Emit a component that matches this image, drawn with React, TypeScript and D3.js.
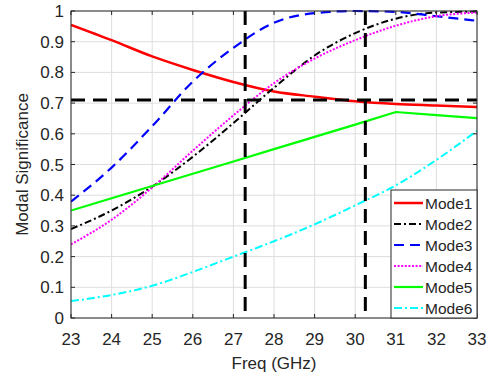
import React, { useEffect, useRef } from 'react'
import * as d3 from 'd3'

// Frequency grid (GHz)
const freq = [23, 24, 25, 26, 27, 28, 29, 30, 31, 32, 33]

const mode1 = [0.955, 0.905, 0.852, 0.808, 0.769, 0.738, 0.721, 0.706, 0.697, 0.692, 0.687]
const mode2 = [0.29, 0.35, 0.428, 0.525, 0.635, 0.75, 0.855, 0.928, 0.975, 0.995, 0.998]
const mode3 = [0.379, 0.49, 0.625, 0.77, 0.88, 0.962, 0.993, 1.0, 0.997, 0.983, 0.968]
const mode4 = [0.24, 0.32, 0.425, 0.545, 0.66, 0.765, 0.845, 0.905, 0.952, 0.983, 0.995]
const mode5 = [0.35, 0.39, 0.43, 0.47, 0.51, 0.55, 0.59, 0.63, 0.671, 0.661, 0.651]
const mode6 = [0.055, 0.075, 0.105, 0.15, 0.2, 0.25, 0.305, 0.367, 0.432, 0.515, 0.61]

const seriesNames = ['Mode1', 'Mode2', 'Mode3', 'Mode4', 'Mode5', 'Mode6']
const seriesValues = [mode1, mode2, mode3, mode4, mode5, mode6]

const xTicks = [23, 24, 25, 26, 27, 28, 29, 30, 31, 32, 33]
const yTicks = [0, 0.1, 0.2, 0.3, 0.4, 0.5, 0.6, 0.7, 0.8, 0.9, 1]

// reference markers
const refFreqs = [27.29, 30.25]
const refLevel = 0.71

const styles = [
    { color: '#ff0000', dash: null, width: 2.5, curve: d3.curveMonotoneX },
    { color: '#000000', dash: '7,3,2,3', width: 2, curve: d3.curveMonotoneX },
    { color: '#0000ff', dash: '10,6', width: 2.2, curve: d3.curveMonotoneX },
    { color: '#ff00ff', dash: '2,1.6', width: 2, curve: d3.curveMonotoneX },
    { color: '#00ff00', dash: null, width: 2.2, curve: d3.curveLinear },
    { color: '#00ffff', dash: '8,3,2,3', width: 2, curve: d3.curveMonotoneX },
]

export default function App() {
    const svgRef = useRef<SVGSVGElement>(null)
    const width = 493
    const height = 381

    useEffect(() => {
        if (!svgRef.current) return
        const svg = d3.select(svgRef.current)
        svg.selectAll('*').remove()

        const margin = { top: 11, right: 16, bottom: 63, left: 71 }
        const innerWidth = width - margin.left - margin.right
        const innerHeight = height - margin.top - margin.bottom
        const font = 'Liberation Sans, Arial, sans-serif'
        const axisColor = '#262626'

        svg.append('rect').attr('width', width).attr('height', height).attr('fill', '#ffffff')

        const x = d3.scaleLinear().domain([23, 33]).range([0, innerWidth])
        const y = d3.scaleLinear().domain([0, 1]).range([innerHeight, 0])

        const g = svg.append('g').attr('transform', `translate(${margin.left},${margin.top})`)

        // Grid
        g.append('g').selectAll('line').data(xTicks).enter().append('line')
            .attr('x1', d => x(d)).attr('x2', d => x(d))
            .attr('y1', 0).attr('y2', innerHeight)
            .attr('stroke', '#dedede').attr('stroke-width', 1)
        g.append('g').selectAll('line').data(yTicks).enter().append('line')
            .attr('x1', 0).attr('x2', innerWidth)
            .attr('y1', d => y(d)).attr('y2', d => y(d))
            .attr('stroke', '#dedede').attr('stroke-width', 1)

        // Series lines
        const clip = svg.append('defs').append('clipPath').attr('id', 'plot-clip')
        clip.append('rect').attr('x', 0).attr('y', -2).attr('width', innerWidth).attr('height', innerHeight + 2)
        const lines = g.append('g').attr('clip-path', 'url(#plot-clip)')

        seriesValues.forEach((vals, i) => {
            const st = styles[i]
            const line = d3.line<number>()
                .x((_, j) => x(freq[j]))
                .y(d => y(d))
                .curve(st.curve)
            const path = lines.append('path')
                .datum(vals)
                .attr('fill', 'none')
                .attr('stroke', st.color)
                .attr('stroke-width', st.width)
                .attr('d', line)
            if (st.dash) path.attr('stroke-dasharray', st.dash)
        })

        // Reference dashed lines
        refFreqs.forEach(f => {
            g.append('line')
                .attr('x1', x(f)).attr('x2', x(f))
                .attr('y1', 0).attr('y2', innerHeight)
                .attr('stroke', '#000').attr('stroke-width', 3)
                .attr('stroke-dasharray', '14,8')
        })
        g.append('line')
            .attr('x1', 0).attr('x2', innerWidth)
            .attr('y1', y(refLevel)).attr('y2', y(refLevel))
            .attr('stroke', '#000').attr('stroke-width', 3)
            .attr('stroke-dasharray', '14,8')

        // Box + inward ticks
        g.append('rect')
            .attr('x', 0).attr('y', 0).attr('width', innerWidth).attr('height', innerHeight)
            .attr('fill', 'none').attr('stroke', axisColor).attr('stroke-width', 1)
        const tickLen = 4
        xTicks.forEach(t => {
            g.append('line').attr('x1', x(t)).attr('x2', x(t)).attr('y1', innerHeight).attr('y2', innerHeight - tickLen).attr('stroke', axisColor)
            g.append('line').attr('x1', x(t)).attr('x2', x(t)).attr('y1', 0).attr('y2', tickLen).attr('stroke', axisColor)
        })
        yTicks.forEach(t => {
            g.append('line').attr('x1', 0).attr('x2', tickLen).attr('y1', y(t)).attr('y2', y(t)).attr('stroke', axisColor)
            g.append('line').attr('x1', innerWidth).attr('x2', innerWidth - tickLen).attr('y1', y(t)).attr('y2', y(t)).attr('stroke', axisColor)
        })

        // Tick labels
        g.append('g').selectAll('text').data(xTicks).enter().append('text')
            .attr('x', d => x(d)).attr('y', innerHeight + 27)
            .attr('text-anchor', 'middle')
            .attr('font-family', font).attr('font-size', 17).attr('fill', axisColor)
            .text(d => String(d))
        g.append('g').selectAll('text').data(yTicks).enter().append('text')
            .attr('x', -7).attr('y', d => y(d) + 6)
            .attr('text-anchor', 'end')
            .attr('font-family', font).attr('font-size', 17).attr('fill', axisColor)
            .text(d => String(d))

        // Axis titles
        svg.append('text')
            .attr('x', margin.left + innerWidth / 2).attr('y', 369)
            .attr('text-anchor', 'middle')
            .attr('font-family', font).attr('font-size', 17).attr('fill', axisColor)
            .text('Freq (GHz)')
        svg.append('text')
            .attr('transform', `translate(28,${margin.top + innerHeight / 2}) rotate(-90)`)
            .attr('text-anchor', 'middle')
            .attr('font-family', font).attr('font-size', 17).attr('fill', axisColor)
            .text('Modal Significance')

        // Legend
        const lx = 391 - margin.left
        const ly = 190 - margin.top
        const lw = innerWidth - lx
        const lh = innerHeight - ly
        const legend = g.append('g')
        legend.append('rect')
            .attr('x', lx).attr('y', ly).attr('width', lw).attr('height', lh)
            .attr('fill', '#fff').attr('stroke', axisColor).attr('stroke-width', 1)
        seriesNames.forEach((name, i) => {
            const st = styles[i]
            const cy = ly + 13 + i * 21
            const l = legend.append('line')
                .attr('x1', lx + 3).attr('x2', lx + 32)
                .attr('y1', cy).attr('y2', cy)
                .attr('stroke', st.color).attr('stroke-width', st.width)
            if (st.dash) l.attr('stroke-dasharray', st.dash)
            legend.append('text')
                .attr('x', lx + 34).attr('y', cy + 5.5)
                .attr('font-family', font).attr('font-size', 15.5).attr('fill', axisColor)
                .text(name)
        })
    }, [])

    return (
        <svg ref={svgRef} width={width} height={height} viewBox={`0 0 ${width} ${height}`}
            style={{ position: 'absolute', left: 0, top: 0 }} />
    )
}
